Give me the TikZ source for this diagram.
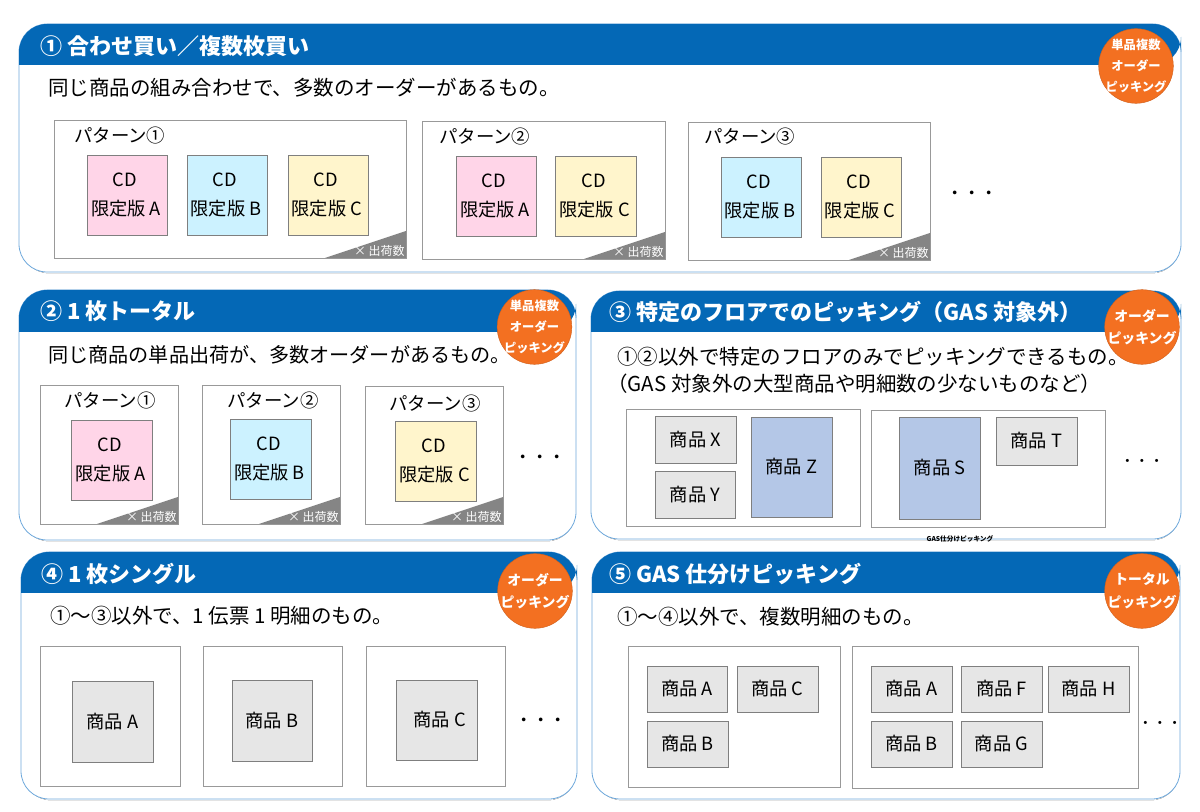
\documentclass[tikz,border=0pt]{standalone}
\usepackage{fontspec}
\setmainfont{Noto Sans CJK JP}
\definecolor{hdr}{HTML}{0468B6}
\definecolor{edge}{HTML}{6FA9DC}
\definecolor{shade}{HTML}{BDD7EE}
\definecolor{orng}{HTML}{F37021}
\definecolor{pinkf}{HTML}{FFD5E8}
\definecolor{bluef}{HTML}{CCF2FF}
\definecolor{yelf}{HTML}{FFF5CC}
\definecolor{grayf}{HTML}{E6E6E6}
\definecolor{slatef}{HTML}{B4C7E7}
\definecolor{boxline}{HTML}{7F7F7F}
\definecolor{frameg}{HTML}{999999}
\definecolor{tri}{HTML}{858585}
\tikzset{
  frameline/.style={draw=frameg,line width=0.55pt,fill=white},
  itembox/.style={draw=boxline,line width=0.55pt,inner sep=0pt,align=center,font=\fontsize{13.7}{21.6}\selectfont,text=black},
  pinkbox/.style={itembox,fill=pinkf},
  bluebox/.style={itembox,fill=bluef},
  yelbox/.style={itembox,fill=yelf},
  graybox/.style={itembox,fill=grayf},
  slatebox/.style={itembox,fill=slatef},
  headtext/.style={anchor=west,text=white,inner sep=0pt,font=\fontsize{16.5}{20}\selectfont\bfseries},
  bodytext/.style={anchor=west,inner sep=0pt,font=\fontsize{15.37}{20}\selectfont},
  patlabel/.style={inner sep=0pt,font=\fontsize{13.8}{18}\selectfont},
  badge/.style={circle,fill=orng,draw=orng!85!black,line width=0.3pt,minimum size=56pt,inner sep=0pt},
  qty/.style={anchor=east,inner sep=0pt,text=white,font=\fontsize{9}{10}\selectfont},
  dotstext/.style={inner sep=0pt,font=\fontsize{13}{16}\selectfont},
  dotssmall/.style={inner sep=0pt,font=\fontsize{11}{16}\selectfont},
  badgethree/.style={inner sep=0pt,align=center,text=white,font=\fontsize{9.2}{15.6}\selectfont\bfseries},
  badgetwo/.style={inner sep=0pt,align=center,text=white,font=\fontsize{10.4}{17}\selectfont\bfseries},
}
% name x1 y1 x2 y2 style text
\newcommand{\ibox}[7]{\node[#6,minimum width={(#4-#2)*0.75pt},minimum height={(#5-#3)*0.75pt}] (#1) at ({(#2+#4)/2},{(#3+#5)/2}) {#7};}
\newcommand{\cdtext}[1]{CD\hspace*{3pt}\\限定版 #1\hspace*{1.5pt}}
% x1 y1 x2 y2 headerbottom
\newcommand{\panel}[5]{%
  \fill[shade,rounded corners=21pt] (#1+2,#2+2) rectangle (#3-1,#4+1.2);
  \draw[edge,line width=0.6pt,fill=white,rounded corners=21pt] (#1,#2) rectangle (#3,#4);
  \fill[hdr,rounded corners=21pt] (#1,#5) -- (#1,#2) -- (#3,#2) -- (#3,#5) [sharp corners] -- cycle;
}
% frame with triangle corner
\newcommand{\qframe}[5]{%
  \draw[frameline] (#2,#3) rectangle (#4,#5);
  \fill[tri] (#4-81,#5) -- (#4,#5-27) -- (#4,#5) -- cycle;
  \node[qty] (#1) at (#4-1,#5-7) {× 出荷数};
}
\newcommand{\pframe}[4]{\draw[frameline] (#1,#2) rectangle (#3,#4);}
\begin{document}
\begin{tikzpicture}[x=0.75pt,y=-0.75pt]
\useasboundingbox (0,0) rectangle (1200,812);
\fill[white] (0,0) rectangle (1200,812);

% panels
\panel{19}{24}{1181}{272}{65}
\panel{19}{290}{576}{540}{332}
\panel{591}{291}{1181}{539}{332}
\panel{21}{552}{577}{799}{593}
\panel{592}{552}{1180}{799}{593}

% headers
\node[headtext] (h1) at (40,46) {① 合わせ買い／複数枚買い};
\node[headtext] (h2) at (40,311) {② 1 枚トータル};
\node[headtext] (h3) at (609,312) {③ 特定のフロアでのピッキング（GAS 対象外）};
\node[headtext] (h4) at (41,574) {④ 1 枚シングル};
\node[headtext] (h5) at (609,574) {⑤ GAS 仕分けピッキング};

% badges
\node[badge] (o1) at (1136,66) {};
\node[badge] (o2) at (534.5,327) {};
\node[badge] (o3) at (1142,327) {};
\node[badge] (o4) at (535,591) {};
\node[badge] (o5) at (1142,591) {};
\node[badgethree] (ot1) at (o1) {単品複数\\オーダー\\ピッキング};
\node[badgethree] (ot2) at (o2) {単品複数\\オーダー\\ピッキング};
\node[badgetwo] (ot3) at (o3) {オーダー\\ピッキング};
\node[badgetwo] (ot4) at (o4) {オーダー\\ピッキング};
\node[badgetwo] (ot5) at (o5) {トータル\\ピッキング};

% body texts
\node[bodytext] (t1) at (48,88) {同じ商品の組み合わせで、多数のオーダーがあるもの。};
\node[bodytext,font=\fontsize{15.1}{20}\selectfont] (t2) at (48,355) {同じ商品の単品出荷が、多数オーダーがあるもの。};
\node[bodytext] (t3a) at (617,357) {①②以外で特定のフロアのみでピッキングできるもの。};
\node[bodytext] (t3b) at (607,384) {（GAS 対象外の大型商品や明細数の少ないものなど）};
\node[bodytext] (t4) at (50,616) {①～③以外で、1 伝票 1 明細のもの。};
\node[bodytext] (t5) at (617,617) {①～④以外で、複数明細のもの。};

% panel 1
\qframe{q11}{54}{120}{406}{258}
\node[patlabel,anchor=west] (p11) at (74,136) {パターン①};
\ibox{a11}{87}{155}{167}{235}{pinkbox}{\cdtext{A}}
\ibox{a12}{187}{155}{267}{235}{bluebox}{\cdtext{B}}
\ibox{a13}{288}{155}{368}{235}{yelbox}{\cdtext{C}}
\qframe{q12}{422}{121}{665}{259}
\node[patlabel,anchor=west] (p12) at (439,137) {パターン②};
\ibox{a21}{456}{156}{536}{236}{pinkbox}{\cdtext{A}}
\ibox{a22}{555}{156}{636}{236}{yelbox}{\cdtext{C}}
\qframe{q13}{688}{122}{930}{260}
\node[patlabel,anchor=west] (p13) at (704,137) {パターン③};
\ibox{a31}{721}{157}{801}{237}{bluebox}{\cdtext{B}}
\ibox{a32}{821}{157}{901}{237}{yelbox}{\cdtext{C}}
\node[dotstext] (d1) at (972,195) {・・・};

% panel 2
\qframe{q21}{40}{385}{178}{524}
\node[patlabel] (p21) at (110,401) {パターン①};
\ibox{b1}{71}{420}{152}{500}{pinkbox}{\cdtext{A}}
\qframe{q22}{202}{385}{340}{524}
\node[patlabel] (p22) at (273,401) {パターン②};
\ibox{b2}{230}{419}{311}{499}{bluebox}{\cdtext{B}}
\qframe{q23}{365}{386}{503}{524}
\node[patlabel] (p23) at (435,404) {パターン③};
\ibox{b3}{395}{421}{476}{501}{yelbox}{\cdtext{C}}
\node[dotstext] (d2) at (540,459) {・・・};

% panel 3
\pframe{626}{409}{860}{526}
\pframe{871}{410}{1105}{527}
\ibox{c1}{655}{416}{736}{463}{graybox}{商品 X}
\ibox{c2}{655}{471}{735}{518}{graybox}{商品 Y}
\ibox{c3}{751}{417}{832}{517}{slatebox}{商品 Z}
\ibox{c4}{899}{417}{980}{519}{slatebox}{商品 S}
\ibox{c5}{996}{417}{1077}{465}{graybox}{商品 T}
\node[dotssmall] (d3) at (1142,463) {・・・};
\node[inner sep=0pt,font=\fontsize{5}{6}\selectfont\bfseries] (tiny) at (960,539) {GAS仕分けピッキング};

% panel 4
\pframe{40}{646}{180}{786}
\pframe{203}{646}{342}{786}
\pframe{366}{646}{505}{786}
\ibox{e1}{72}{681}{153}{762}{graybox}{商品 A}
\ibox{e2}{232}{680}{312}{761}{graybox}{商品 B}
\ibox{e3}{396}{680}{477}{760}{graybox}{\hspace*{5pt}商品 C}
\node[dotstext] (d4) at (541,722) {・・・};

% panel 5
\pframe{628}{646}{840}{787}
\pframe{852}{646}{1138}{788}
\ibox{f1}{647}{666}{727}{712}{graybox}{商品 A}
\ibox{f2}{737}{666}{818}{712}{graybox}{商品 C}
\ibox{f3}{647}{721}{728}{767}{graybox}{商品 B}
\ibox{f4}{871}{666}{952}{712}{graybox}{商品 A}
\ibox{f5}{961}{666}{1042}{712}{graybox}{商品 F}
\ibox{f6}{1048}{666}{1129}{712}{graybox}{商品 H}
\ibox{f7}{871}{721}{952}{767}{graybox}{商品 B}
\ibox{f8}{961}{721}{1042}{767}{graybox}{商品 G}
\node[dotssmall] (d5) at (1160,725) {・・・};
\end{tikzpicture}
\end{document}
